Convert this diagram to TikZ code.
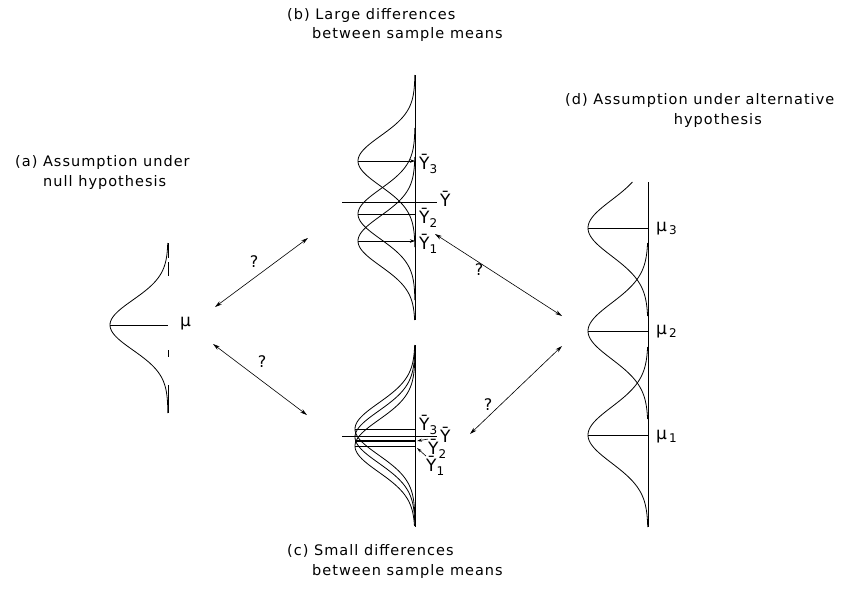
\documentclass[tikz,border=0pt]{standalone}
\usepackage{fontspec}
\setmainfont{DejaVu Sans}
\newfontfamily\labfont[LetterSpace=7]{DejaVu Sans}
\usetikzlibrary{arrows.meta}
\tikzset{
  curve/.style={line width=0.8pt},
  axisline/.style={line width=0.8pt},
  meanline/.style={line width=0.8pt},
  txt/.style={font=\labfont\fontsize{14.5}{16}\selectfont, inner sep=0pt},
  sym/.style={font=\fontsize{17}{19}\selectfont, inner sep=0pt, anchor=west},
  qmark/.style={font=\fontsize{16}{18}\selectfont, inner sep=0pt},
  dblarrow/.style={line width=0.6pt, {Stealth[length=7pt,width=4pt]}-{Stealth[length=7pt,width=4pt]}},
  leader/.style={line width=0.6pt, -{Stealth[length=5pt,width=3pt]}}
}
\newcommand{\vcurve}[6]{% axis x, amplitude, mean, sigma, from, to
  \draw[curve] plot[domain=#5:#6,samples=90,smooth] ({#1-#2*exp(-(\x*\x)/(2*#4*#4))},{#3+\x});}
\newcommand{\Yb}[1]{Ȳ\raisebox{-0.45ex}{\fontsize{12}{12}\selectfont #1}}
\newcommand{\mub}[1]{μ\raisebox{-0.3ex}{\fontsize{12}{12}\selectfont\,#1}}
\begin{document}
\begin{tikzpicture}[x=1pt,y=-1pt]
\useasboundingbox (0,0) rectangle (844,603);
\fill[white] (0,0) rectangle (844,603);

% ---------- titles ----------
\node[txt,anchor=west] (ta1) at (15,162) {(a) Assumption under};
\node[txt,anchor=west] (ta2) at (43,182) {null hypothesis};
\node[txt,anchor=west] (tb1) at (287,15) {(b) Large differences};
\node[txt,anchor=west] (tb2) at (312,34) {between sample means};
\node[txt,anchor=west] (tc1) at (287,551) {(c) Small differences};
\node[txt,anchor=west] (tc2) at (312,571) {between sample means};
\node[txt,anchor=west] (td1) at (565,100) {(d) Assumption under alternative};
\node[txt,anchor=east] (td2) at (762,120) {hypothesis};

% ---------- (a) null hypothesis ----------
\draw[axisline,line width=0.6pt] (168,243) -- (168,258) (168,262) -- (168,276) (168,350) -- (168,357);
\draw[axisline] (168,385) -- (168,413);
\vcurve{168}{58}{325}{25}{-82}{88}
\draw[meanline] (110,325) -- (168,325);
\node[sym] (mu) at (180,324) {μ};

% ---------- (b) large differences ----------
\draw[axisline] (415,75) -- (415,320);
\vcurve{415}{57}{161}{25}{-86}{86}
\vcurve{415}{57}{214}{25}{-86}{86}
\vcurve{415}{57}{241}{25}{-84}{79}
\draw[meanline,-{Stealth[length=5pt,width=3.5pt]}] (358,161) -- (415,161);
\draw[meanline] (358,214) -- (415,214);
\draw[meanline,-{Stealth[length=5pt,width=3.5pt]}] (358,241) -- (415,241);
\draw[meanline] (342,202) -- (437,202);
\node[sym] (bY3) at (419,164) {\Yb{3}};
\node[sym] (bY) at (440,199) {Ȳ};
\node[sym] (bY2) at (419,218) {\Yb{2}};
\node[sym] (bY1) at (419,244) {\Yb{1}};

% ---------- (c) small differences ----------
\draw[axisline] (415,345) -- (415,527);
\vcurve{415}{60}{429}{26}{-84}{90}
\vcurve{415}{60}{437}{26}{-90}{88}
\vcurve{415}{60}{446}{26}{-96}{80}
\draw[meanline] (355,429) -- (415,429);
\draw[meanline] (342,436) -- (437,436);
\draw[meanline,line width=1.2pt] (355,441) -- (415,441);
\draw[meanline] (355,446) -- (415,446);
\node[sym] (cY3) at (419,425) {\Yb{3}};
\node[sym] (cY) at (440,435) {Ȳ};
\node[sym] (cY2) at (428,449) {\Yb{2}};
\node[sym] (cY1) at (426,466) {\Yb{1}};
\draw[leader] (cY2.north west) -- (417,441);
\draw[leader] (cY1.north west) -- (417,448);

% ---------- (d) alternative hypothesis ----------
\draw[axisline] (648,182) -- (648,527);
\vcurve{648}{60}{228}{28}{-46}{88}
\vcurve{648}{60}{331}{28}{-88}{88}
\vcurve{648}{60}{435}{28}{-88}{92}
\draw[meanline] (588,228) -- (648,228);
\draw[meanline] (588,331) -- (648,331);
\draw[meanline] (588,435) -- (648,435);
\node[sym] (mu3) at (656,229) {\mub{3}};
\node[sym] (mu2) at (656,332) {\mub{2}};
\node[sym] (mu1) at (656,437) {\mub{1}};

% ---------- arrows ----------
\coordinate (aU1) at (215,307); \coordinate (aU2) at (308,238);
\coordinate (aL1) at (213,344); \coordinate (aL2) at (307,415);
\coordinate (bR1) at (435,234); \coordinate (bR2) at (562,316);
\coordinate (cR1) at (470,434); \coordinate (cR2) at (562,346);
\draw[dblarrow] (aU1) -- (aU2);
\draw[dblarrow] (aL1) -- (aL2);
\draw[dblarrow] (bR1) -- (bR2);
\draw[dblarrow] (cR1) -- (cR2);
\node[qmark] (q1) at (254,262) {?};
\node[qmark] (q2) at (262,362) {?};
\node[qmark] (q3) at (479,270) {?};
\node[qmark] (q4) at (488,405) {?};
\end{tikzpicture}
\end{document}
